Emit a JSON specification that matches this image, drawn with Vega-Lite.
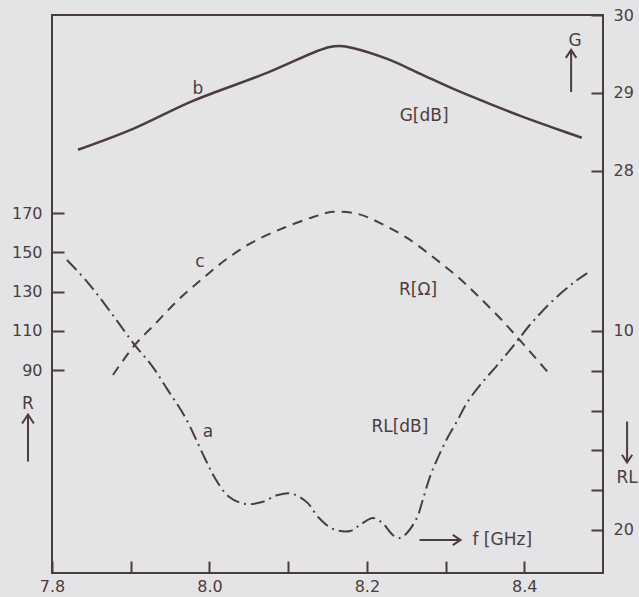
{
  "$schema": "https://vega.github.io/schema/vega-lite/v6.json",
  "width": 551,
  "height": 558,
  "autosize": {"type": "none"},
  "padding": {"left": 52, "top": 15, "right": 36, "bottom": 24},
  "background": "#e4e4e6",
  "config": {
    "view": {"stroke": "#4b3d3d", "strokeWidth": 2},
    "axis": {
      "domain": false, "grid": false,
      "tickColor": "#4b3d3d", "tickWidth": 2, "tickSize": -12,
      "labelColor": "#4b3d3d", "labelFont": "DejaVu Sans", "labelFontSize": 16,
      "labelPadding": 22, "labelFlush": false, "labelOverlap": false
    },
    "text": {"font": "DejaVu Sans", "fontSize": 17, "color": "#4b3d3d", "align": "center", "baseline": "middle"}
  },
  "datasets": {
    "gain": [
      {"f": 7.833, "G": 28.269}, {"f": 7.903, "G": 28.538}, {"f": 7.979, "G": 28.897},
      {"f": 8.073, "G": 29.256}, {"f": 8.137, "G": 29.538}, {"f": 8.153, "G": 29.59},
      {"f": 8.166, "G": 29.603}, {"f": 8.182, "G": 29.577}, {"f": 8.226, "G": 29.436},
      {"f": 8.268, "G": 29.244}, {"f": 8.310, "G": 29.051}, {"f": 8.353, "G": 28.872},
      {"f": 8.395, "G": 28.705}, {"f": 8.437, "G": 28.551}, {"f": 8.473, "G": 28.423}
    ],
    "res": [
      {"f": 7.8775, "R": 87.5}, {"f": 7.905, "R": 102.7}, {"f": 7.931, "R": 113.5},
      {"f": 7.960, "R": 125.6}, {"f": 7.991, "R": 136.5}, {"f": 8.022, "R": 146.6},
      {"f": 8.055, "R": 155.2}, {"f": 8.094, "R": 162.4}, {"f": 8.132, "R": 168.0},
      {"f": 8.157, "R": 170.6}, {"f": 8.188, "R": 169.6}, {"f": 8.217, "R": 164.9},
      {"f": 8.251, "R": 157.3}, {"f": 8.284, "R": 147.6}, {"f": 8.315, "R": 137.6},
      {"f": 8.340, "R": 128.2}, {"f": 8.369, "R": 116.5}, {"f": 8.396, "R": 104.5},
      {"f": 8.432, "R": 88.0}
    ],
    "rl": [
      {"f": 7.819, "RL": 6.43}, {"f": 7.846, "RL": 7.59}, {"f": 7.880, "RL": 9.35},
      {"f": 7.905, "RL": 10.70}, {"f": 7.927, "RL": 11.75}, {"f": 7.947, "RL": 12.96},
      {"f": 7.969, "RL": 14.32}, {"f": 7.994, "RL": 16.38}, {"f": 8.007, "RL": 17.39},
      {"f": 8.024, "RL": 18.30}, {"f": 8.045, "RL": 18.69}, {"f": 8.067, "RL": 18.59},
      {"f": 8.087, "RL": 18.24}, {"f": 8.105, "RL": 18.18}, {"f": 8.125, "RL": 18.65},
      {"f": 8.138, "RL": 19.35}, {"f": 8.157, "RL": 19.95}, {"f": 8.179, "RL": 20.05},
      {"f": 8.191, "RL": 19.75}, {"f": 8.208, "RL": 19.40}, {"f": 8.221, "RL": 19.70},
      {"f": 8.233, "RL": 20.25}, {"f": 8.242, "RL": 20.40}, {"f": 8.251, "RL": 20.15},
      {"f": 8.264, "RL": 19.35}, {"f": 8.271, "RL": 18.49}, {"f": 8.280, "RL": 17.34},
      {"f": 8.289, "RL": 16.48}, {"f": 8.302, "RL": 15.40}, {"f": 8.315, "RL": 14.50},
      {"f": 8.327, "RL": 13.62}, {"f": 8.344, "RL": 12.71}, {"f": 8.365, "RL": 11.75},
      {"f": 8.382, "RL": 10.95}, {"f": 8.395, "RL": 10.30}, {"f": 8.407, "RL": 9.70},
      {"f": 8.437, "RL": 8.44}, {"f": 8.462, "RL": 7.59}, {"f": 8.480, "RL": 7.09}
    ],
    "notes": [
      {"scale": "G", "text": "b", "f": 7.9855, "v": 29.05},
      {"scale": "G", "text": "G[dB]", "f": 8.2727, "v": 28.705},
      {"scale": "G", "text": "G", "f": 8.4646, "v": 29.667},
      {"scale": "R", "text": "c", "f": 7.988, "v": 145.0},
      {"scale": "R", "text": "R[Ω]", "f": 8.265, "v": 130.8},
      {"scale": "R", "text": "R", "f": 7.7695, "v": 72.7},
      {"scale": "RL", "text": "a", "f": 7.998, "v": 15.08},
      {"scale": "RL", "text": "RL[dB]", "f": 8.242, "v": 14.82},
      {"scale": "RL", "text": "f [GHz]", "f": 8.372, "v": 20.5},
      {"scale": "RL", "text": "RL", "f": 8.5306, "v": 17.39}
    ],
    "arrows": [
      {"scale": "G", "dir": "up", "f": 8.4595, "v": 29.282},
      {"scale": "R", "dir": "up", "f": 7.7695, "v": 55.35},
      {"scale": "RL", "dir": "down", "f": 8.5306, "v": 15.58},
      {"scale": "RL", "dir": "right", "f": 8.293, "v": 20.5}
    ]
  },
  "layer": [
    {
      "data": {"name": "gain"},
      "mark": {"type": "line", "color": "#4b3d3d", "strokeWidth": 2.5, "interpolate": "catmull-rom"},
      "encoding": {
        "x": {"field": "f", "type": "quantitative", "title": null,
              "scale": {"domain": [7.8, 8.5], "nice": false, "zero": false},
              "axis": {"values": [7.8, 7.9, 8.0, 8.1, 8.2, 8.3, 8.4], "labelPadding": 17,
                       "labelExpr": "round(datum.value*10) % 2 == 0 ? format(datum.value, '.1f') : ''"}},
        "y": {"field": "G", "type": "quantitative", "title": null,
              "scale": {"domain": [22.833, 30], "nice": false, "zero": false},
              "axis": {"orient": "right", "values": [28, 29, 30], "format": "d"}}
      }
    },
    {
      "data": {"name": "res"},
      "mark": {"type": "line", "color": "#4b3d3d", "strokeWidth": 2, "strokeDash": [10, 7], "interpolate": "catmull-rom"},
      "encoding": {
        "x": {"field": "f", "type": "quantitative", "title": null},
        "y": {"field": "R", "type": "quantitative", "title": null,
              "scale": {"domain": [-13.4, 270.9], "nice": false, "zero": false},
              "axis": {"orient": "left", "values": [90, 110, 130, 150, 170]}}
      }
    },
    {
      "data": {"name": "rl"},
      "mark": {"type": "line", "color": "#4b3d3d", "strokeWidth": 2, "strokeDash": [14, 5, 2, 5], "interpolate": "catmull-rom"},
      "encoding": {
        "x": {"field": "f", "type": "quantitative", "title": null},
        "y": {"field": "RL", "type": "quantitative", "title": null,
              "scale": {"domain": [-5.879, 22.161], "nice": false, "zero": false, "reverse": true},
              "axis": {"orient": "right", "values": [10, 12, 14, 16, 18, 20],
                       "labelExpr": "datum.value == 10 || datum.value == 20 ? datum.label : ''"}}
      }
    },
    {
      "data": {"name": "notes"},
      "transform": [{"filter": "datum.scale == 'G'"}],
      "mark": {"type": "text", "clip": false},
      "encoding": {
        "x": {"field": "f", "type": "quantitative", "title": null},
        "y": {"field": "v", "type": "quantitative", "scale": {"domain": [22.833, 30], "nice": false, "zero": false}, "axis": null},
        "text": {"field": "text"}
      }
    },
    {
      "data": {"name": "notes"},
      "transform": [{"filter": "datum.scale == 'R'"}],
      "mark": {"type": "text", "clip": false},
      "encoding": {
        "x": {"field": "f", "type": "quantitative", "title": null},
        "y": {"field": "v", "type": "quantitative", "scale": {"domain": [-13.4, 270.9], "nice": false, "zero": false}, "axis": null},
        "text": {"field": "text"}
      }
    },
    {
      "data": {"name": "notes"},
      "transform": [{"filter": "datum.scale == 'RL'"}],
      "mark": {"type": "text", "clip": false},
      "encoding": {
        "x": {"field": "f", "type": "quantitative", "title": null},
        "y": {"field": "v", "type": "quantitative", "scale": {"domain": [-5.879, 22.161], "nice": false, "zero": false, "reverse": true}, "axis": null},
        "text": {"field": "text"}
      }
    },
    {
      "data": {"name": "arrows"},
      "transform": [{"filter": "datum.scale == 'G'"}],
      "mark": {"type": "point", "filled": false, "stroke": "#4b3d3d", "strokeWidth": 2, "size": 1764, "opacity": 1, "clip": false},
      "encoding": {
        "x": {"field": "f", "type": "quantitative", "title": null},
        "y": {"field": "v", "type": "quantitative", "scale": {"domain": [22.833, 30], "nice": false, "zero": false}, "axis": null},
        "shape": {"field": "dir", "type": "nominal", "legend": null,
                  "scale": {"domain": ["up", "down", "right"],
                            "range": ["M0,1L0,-1M-0.25,-0.62L0,-1L0.25,-0.62", "M0,-1L0,1M-0.25,0.62L0,1L0.25,0.62", "M-1,0L1,0M0.62,-0.25L1,0L0.62,0.25"]}}
      }
    },
    {
      "data": {"name": "arrows"},
      "transform": [{"filter": "datum.scale == 'R'"}],
      "mark": {"type": "point", "filled": false, "stroke": "#4b3d3d", "strokeWidth": 2, "size": 2209, "opacity": 1, "clip": false},
      "encoding": {
        "x": {"field": "f", "type": "quantitative", "title": null},
        "y": {"field": "v", "type": "quantitative", "scale": {"domain": [-13.4, 270.9], "nice": false, "zero": false}, "axis": null},
        "shape": {"field": "dir", "type": "nominal", "legend": null,
                  "scale": {"domain": ["up", "down", "right"],
                            "range": ["M0,1L0,-1M-0.25,-0.62L0,-1L0.25,-0.62", "M0,-1L0,1M-0.25,0.62L0,1L0.25,0.62", "M-1,0L1,0M0.62,-0.25L1,0L0.62,0.25"]}}
      }
    },
    {
      "data": {"name": "arrows"},
      "transform": [{"filter": "datum.scale == 'RL'"}],
      "mark": {"type": "point", "filled": false, "stroke": "#4b3d3d", "strokeWidth": 2, "size": 1681, "opacity": 1, "clip": false},
      "encoding": {
        "x": {"field": "f", "type": "quantitative", "title": null},
        "y": {"field": "v", "type": "quantitative", "scale": {"domain": [-5.879, 22.161], "nice": false, "zero": false, "reverse": true}, "axis": null},
        "shape": {"field": "dir", "type": "nominal", "legend": null,
                  "scale": {"domain": ["up", "down", "right"],
                            "range": ["M0,1L0,-1M-0.25,-0.62L0,-1L0.25,-0.62", "M0,-1L0,1M-0.25,0.62L0,1L0.25,0.62", "M-1,0L1,0M0.62,-0.25L1,0L0.62,0.25"]}}
      }
    }
  ],
  "resolve": {"scale": {"y": "independent", "shape": "independent"}}
}
